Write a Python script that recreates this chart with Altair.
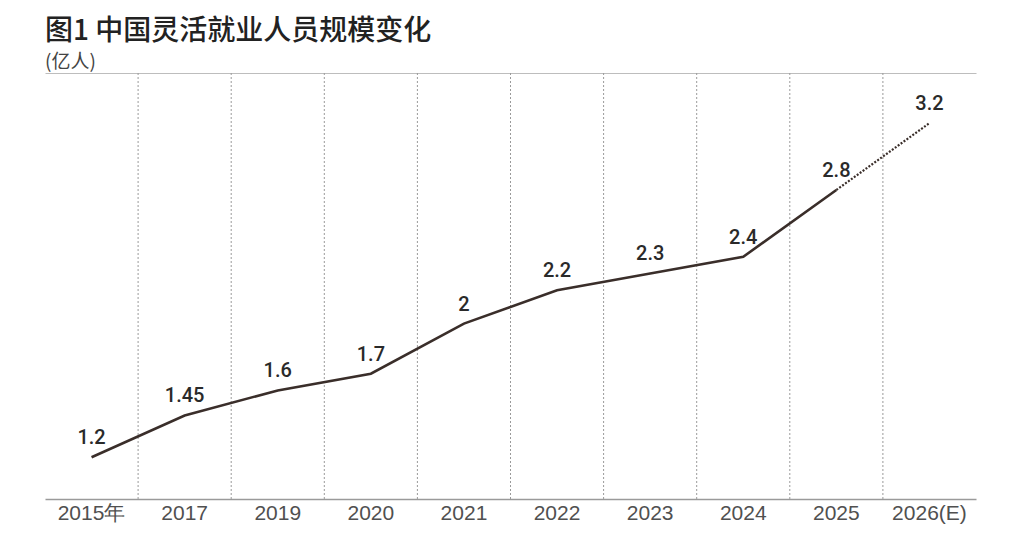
import altair as alt
import pandas as pd

years = ["2015年", "2017", "2019", "2020", "2021", "2022", "2023", "2024", "2025", "2026(E)"]
values = [1.2, 1.45, 1.6, 1.7, 2.0, 2.2, 2.3, 2.4, 2.8, 3.2]
labels = ["1.2", "1.45", "1.6", "1.7", "2", "2.2", "2.3", "2.4", "2.8", "3.2"]

df = pd.DataFrame({"year": years, "value": values, "label": labels})
solid = df.iloc[:9]
dashed = df.iloc[8:]
rules = pd.DataFrame({"year": years[1:]})

xscale = alt.Scale(type="band", domain=years, paddingInner=0, paddingOuter=0)
xaxis = alt.Axis(title=None, ticks=False, grid=False, labelAngle=0,
                 domainColor="#9a9a9a", domainWidth=1.5,
                 labelFont="Liberation Sans", labelFontSize=21,
                 labelColor="#505050", labelPadding=3)
yenc = alt.Y("value:Q",
             scale=alt.Scale(domain=[0.95, 3.5], nice=False, zero=False),
             axis=alt.Axis(values=[3.5], grid=True, gridColor="#bdbdbd", gridWidth=1.2,
                           labels=False, ticks=False, domain=False, title=None))

rule_layer = alt.Chart(rules).mark_rule(color="#9a9a9a", strokeDash=[2, 2], strokeWidth=1).encode(
    x=alt.X("year:N", sort=years, scale=xscale, axis=xaxis, bandPosition=0)
)

line_solid = alt.Chart(solid).mark_line(color="#3a2e2a", strokeWidth=2.6).encode(
    x=alt.X("year:N", sort=years, scale=xscale, axis=xaxis, bandPosition=0.5),
    y=yenc,
)

line_dash = alt.Chart(dashed).mark_line(color="#3a2e2a", strokeWidth=2.2, strokeDash=[2, 1.6]).encode(
    x=alt.X("year:N", sort=years, scale=xscale, axis=xaxis, bandPosition=0.5),
    y=yenc,
)

text_layer = alt.Chart(df).mark_text(font="Roboto", fontSize=20, fontWeight=500,
                                     color="#2a2a2a", dy=-19, baseline="middle").encode(
    x=alt.X("year:N", sort=years, scale=xscale, axis=xaxis, bandPosition=0.5),
    y=yenc,
    text="label:N",
)

chart = alt.layer(rule_layer, line_solid, line_dash, text_layer).properties(
    width=931,
    height=426,
    padding={"left": 37, "top": 9, "right": 40, "bottom": 3},
    title=alt.TitleParams(
        text="图1 中国灵活就业人员规模变化",
        subtitle="(亿人)",
        anchor="start",
        frame="group",
        font="Noto Sans CJK SC",
        fontSize=28,
        fontWeight=500,
        color="#222222",
        subtitleFont="Noto Sans CJK SC",
        subtitleFontSize=19,
        subtitleColor="#444444",
        subtitlePadding=7,
        offset=1,
    ),
).configure_view(stroke=None)

chart.save("out.html", embed_options={"renderer": "svg", "actions": False})
